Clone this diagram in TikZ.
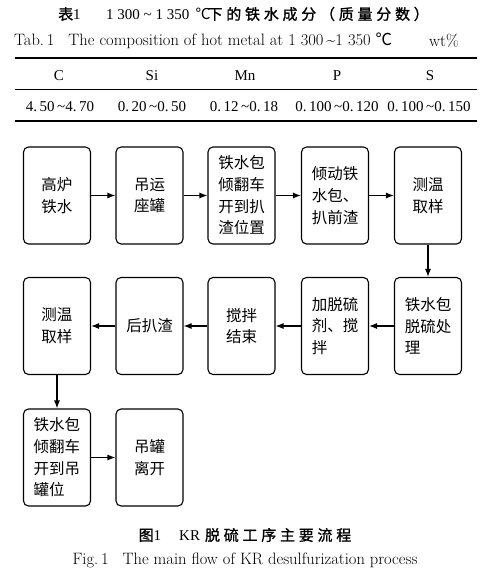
\documentclass[tikz,border=0pt]{standalone}
\usepackage{fontspec}
\usepackage{xcolor}
\usetikzlibrary{arrows.meta,positioning}
\newfontfamily\cjk{Noto Sans CJK SC}
\newfontfamily\cjkb{Noto Sans CJK SC}[LetterSpace=25, FakeBold=1.2]
\newfontfamily\tms{Liberation Serif}

\begin{document}
\begin{tikzpicture}[x=1pt,y=-1pt,
    box/.style={draw, rounded corners=5pt, line width=1.1pt, minimum width=67pt,
      minimum height=97pt, inner sep=0pt, align=left,
      font=\cjk\fontsize{15.5}{21.7}\selectfont},
    arr/.style={-{Latex[length=8pt,width=6pt]}, line width=1.1pt},
    cell/.style={font=\tms\fontsize{15}{17}\selectfont}]
        % 页面范围
        \useasboundingbox (0,0) rectangle (484,576);

        % 表题
        \node[anchor=west, inner sep=0pt] (tt1) at (58,14)
          {{\cjkb\fontsize{15}{18}\selectfont 表}{\tms\fontsize{15}{18}\selectfont 1}};
        \node[anchor=west, inner sep=0pt] (tt2) at (106,14)
          {\tms\fontsize{15}{18}\selectfont 1 300 \textasciitilde\ 1 350 \,{\cjk ℃}};
        \node[anchor=east, inner sep=0pt] (tt3) at (429,14)
          {\cjkb\fontsize{15}{18}\selectfont 下的铁水成分（质量分数）};
        \node[anchor=west, inner sep=0pt] (te1) at (14,41)
          {\fontsize{16.5}{19}\selectfont Tab.\,1\hspace{14pt}The composition of hot metal at 1 300\,\textasciitilde 1 350 {\cjk ℃}};
        \node[anchor=west, inner sep=0pt] (te2) at (429,41)
          {\fontsize{16.5}{19}\selectfont wt\%};

        % 表格线
        \draw[line width=1.5pt] (15,58) -- (477,58);
        \draw[line width=0.8pt] (15,89) -- (477,89);
        \draw[line width=1.5pt] (15,121) -- (477,121);

        % 表头与数据
        \node[cell] (hC) at (59,76) {C};
        \node[cell] (hSi) at (152,76) {Si};
        \node[cell] (hMn) at (245,76) {Mn};
        \node[cell] (hP) at (337,76) {P};
        \node[cell] (hS) at (430,76) {S};
        \node[cell] (vC) at (60,107) {4.\,50\,\textasciitilde4.\,70};
        \node[cell] (vSi) at (152,107) {0.\,20\,\textasciitilde0.\,50};
        \node[cell] (vMn) at (244,107) {0.\,12\,\textasciitilde0.\,18};
        \node[cell] (vP) at (337,107) {0.\,100\,\textasciitilde0.\,120};
        \node[cell] (vS) at (429,107) {0.\,100\,\textasciitilde0.\,150};

        % 第一行
        \node[box] (a1) at (57,195.5) {高炉\\铁水};
        \node[box] (a2) at (149.5,195.5) {吊运\\座罐};
        \node[box] (a3) at (241.5,195.5) {铁水包\\倾翻车\\开到扒\\渣位置};
        \node[box] (a4) at (335,195.5) {倾动铁\\水包、\\扒前渣};
        \node[box] (a5) at (428,195.5) {测温\\取样};

        % 第二行
        \node[box] (b5) at (428,326) {铁水包\\脱硫处\\理};
        \node[box] (b4) at (335,326) {加脱硫\\剂、搅\\拌};
        \node[box] (b3) at (241.5,326) {搅拌\\结束};
        \node[box] (b2) at (149.5,326) {后扒渣};
        \node[box] (b1) at (57,326) {测温\\取样};

        % 第三行
        \node[box] (c1) at (57,457.5) {铁水包\\倾翻车\\开到吊\\罐位};
        \node[box] (c2) at (149.5,457.5) {吊罐\\离开};

        % 箭头
        \draw[arr] (a1) -- (a2);
        \draw[arr] (a2) -- (a3);
        \draw[arr] (a3) -- (a4);
        \draw[arr] (a4) -- (a5);
        \draw[arr] (a5) -- (b5);
        \draw[arr] (b5) -- (b4);
        \draw[arr] (b4) -- (b3);
        \draw[arr] (b3) -- (b2);
        \draw[arr] (b2) -- (b1);
        \draw[arr] (b1) -- (c1);
        \draw[arr] (c1) -- (c2);

        % 图题
        \node[inner sep=0pt] (cap1) at (245,535)
          {{\cjkb\fontsize{15}{18}\selectfont 图}{\tms\fontsize{15}{18}\selectfont 1}\hspace{18pt}{\tms\fontsize{15}{18}\selectfont KR}\hspace{5pt}{\cjkb\fontsize{15}{18}\selectfont 脱硫工序主要流程}};
        \node[inner sep=0pt] (cap2) at (245,560)
          {\fontsize{16.5}{19}\selectfont Fig.\,1\hspace{14pt}The main flow of KR desulfurization process};
    \end{tikzpicture}
\end{document}
